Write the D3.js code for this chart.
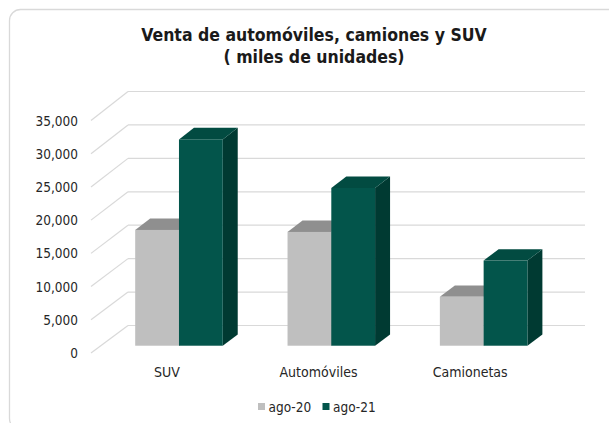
<!DOCTYPE html>
<html>
<head>
<meta charset="utf-8">
<script src="https://cdn.jsdelivr.net/npm/d3@7"></script>
<style>
  html, body { margin: 0; padding: 0; background: #ffffff; }
  svg { display: block; }
  text { font-family: "DejaVu Sans Condensed", "DejaVu Sans", sans-serif; font-stretch: condensed; fill: #262626; }
</style>
</head>
<body>
<svg id="chart" width="609" height="423"></svg>
<script>
// ---- data ----
const categories = ["SUV", "Automóviles", "Camionetas"];
const seriesNames = ["ago-20", "ago-21"];
const ago20 = [17400, 17100, 7350];
const ago21 = [31000, 23700, 12800];
const yTicks = [0, 5000, 10000, 15000, 20000, 25000, 30000, 35000];
const titleLines = ["Venta de automóviles, camiones y SUV", "( miles de unidades)"];

const seriesValues = [ago20, ago21];
const colors = {
  "ago-20": { front: "#bfbfbf", top: "#8f8f8f", side: "#7f7f7f" },
  "ago-21": { front: "#03554b", top: "#024b41", side: "#003a32" }
};

const svg = d3.select("#chart");

// chart border
svg.append("rect")
  .attr("x", 9.5).attr("y", 9.5)
  .attr("width", 610).attr("height", 420)
  .attr("rx", 11).attr("ry", 11)
  .attr("fill", "#ffffff")
  .attr("stroke", "#d9d9d9").attr("stroke-width", 1.3);

// title
svg.append("text")
  .attr("x", 314).attr("text-anchor", "middle")
  .style("font-size", "17.5px").style("font-weight", "bold").style("fill", "#1a1a1a")
  .selectAll("tspan").data(titleLines).join("tspan")
  .attr("x", 314)
  .attr("y", (d, i) => 41 + i * 22)
  .text(d => d);

// 3D projection
const DX = 37;                       // horizontal shift from front to back of floor
const yF = d3.scaleLinear().domain([0, 35000]).range([353, 120.5]);  // front plane
const yB = d3.scaleLinear().domain([0, 35000]).range([325.5, 91.5]); // back wall
const yAt = (v, t) => (1 - t) * yF(v) + t * yB(v);

const xWallL = 91, xWallR = 548;
const xc = d3.scaleBand().domain(categories).range([93, 550]).paddingInner(0).paddingOuter(0);
const x1 = d3.scaleBand().domain(seriesNames).range([0, xc.bandwidth()]).paddingInner(0).paddingOuter(0.74);
const xLabel = d3.scaleBand().domain(categories).range([91, 546]);

// walls: back gridlines + side diagonals
const grid = svg.append("g").attr("stroke", "#d9d9d9").attr("stroke-width", 1.2).attr("fill", "none");
grid.selectAll("line.back").data(yTicks).join("line")
  .attr("class", "back")
  .attr("x1", xWallL + DX).attr("x2", xWallR + DX)
  .attr("y1", d => yB(d)).attr("y2", d => yB(d));
grid.selectAll("line.side").data(yTicks).join("line")
  .attr("class", "side")
  .attr("x1", xWallL).attr("y1", d => yF(d))
  .attr("x2", xWallL + DX).attr("y2", d => yB(d));

// y tick labels
const fmt = d3.format(",");
svg.append("g").selectAll("text").data(yTicks).join("text")
  .attr("x", 78).attr("y", d => yF(d))
  .attr("text-anchor", "end").attr("dominant-baseline", "central")
  .style("font-size", "13.5px")
  .text(d => fmt(d));

// bars
const t0 = 0.265, t1 = 0.67;
const bars = [];
categories.forEach((c, ci) => {
  seriesNames.forEach((s, si) => {
    bars.push({ c, s, v: seriesValues[si][ci] });
  });
});

const gBars = svg.append("g");
bars.forEach(b => {
  const w = x1.bandwidth();
  const x0 = xc(b.c) + x1(b.s) + t0 * DX;
  const xb = xc(b.c) + x1(b.s) + t1 * DX;
  const yTop0 = yAt(b.v, t0), yBase0 = yAt(0, t0);
  const yTop1 = yAt(b.v, t1), yBase1 = yAt(0, t1);
  const col = colors[b.s];
  const g = gBars.append("g");
  g.append("polygon")
    .attr("points", [[x0 + w, yTop0], [xb + w, yTop1], [xb + w, yBase1], [x0 + w, yBase0]].map(p => p.join(",")).join(" "))
    .attr("fill", col.side);
  g.append("polygon")
    .attr("points", [[x0, yTop0], [x0 + w, yTop0], [xb + w, yTop1], [xb, yTop1]].map(p => p.join(",")).join(" "))
    .attr("fill", col.top);
  g.append("rect")
    .attr("x", x0).attr("y", yTop0)
    .attr("width", w).attr("height", yBase0 - yTop0)
    .attr("fill", col.front);
});

// category labels
svg.append("g").selectAll("text").data(categories).join("text")
  .attr("x", d => xLabel(d) + xLabel.bandwidth() / 2)
  .attr("y", 372)
  .attr("text-anchor", "middle").attr("dominant-baseline", "central")
  .style("font-size", "14px")
  .text(d => d);

// legend
const legend = svg.append("g");
const legendX = [258, 322.5];
seriesNames.forEach((s, i) => {
  legend.append("rect")
    .attr("x", legendX[i]).attr("y", 403)
    .attr("width", 7).attr("height", 7)
    .attr("fill", colors[s].front);
  legend.append("text")
    .attr("x", legendX[i] + 10.5).attr("y", 406.5)
    .attr("dominant-baseline", "central")
    .style("font-size", "13.5px")
    .text(s);
});
</script>
</body>
</html>
